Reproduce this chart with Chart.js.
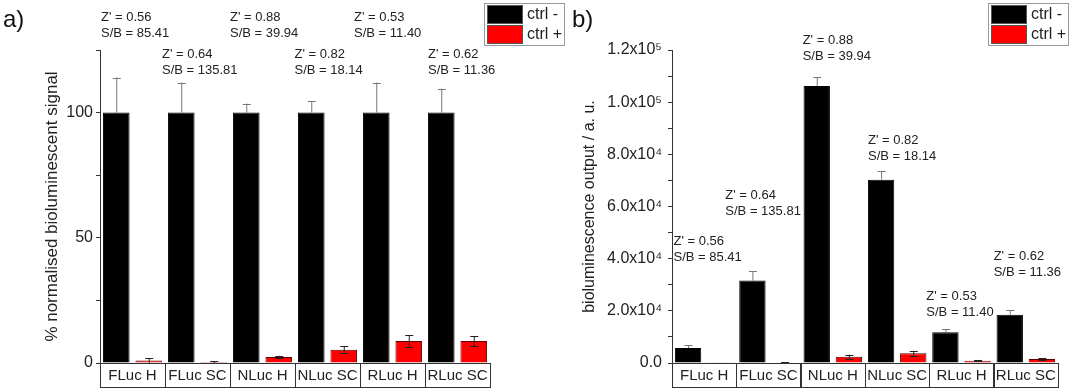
<!DOCTYPE html>
<html>
<head>
<meta charset="utf-8">
<script src="https://cdn.jsdelivr.net/npm/chart.js@4.4.1/dist/chart.umd.min.js"></script>
<style>
  html, body { margin: 0; padding: 0; background: #fff; }
  #wrap { position: relative; width: 1072px; height: 390px; }
  #chartA { position: absolute; left: 0; top: 0; }
  #chartB { position: absolute; left: 568px; top: 0; }
</style>
</head>
<body>
<div id="wrap">
  <canvas id="chartA" width="568" height="390"></canvas>
  <canvas id="chartB" width="504" height="390"></canvas>
</div>
<script>
const labels = ["FLuc H", "FLuc SC", "NLuc H", "NLuc SC", "RLuc H", "RLuc SC"];
const zPrime = ["0.56", "0.64", "0.88", "0.82", "0.53", "0.62"];
const sbRatio = ["85.41", "135.81", "39.94", "18.14", "11.40", "11.36"];

// a) % normalised signal
const normNeg = [100, 100, 100, 100, 100, 100];
const normNegErr = [14, 12, 3.6, 4.5, 12, 9.6];
const normPos = [1.0, 0.4, 2.4, 5.3, 8.8, 8.8];
const normPosErr = [1.0, 0.4, 0.5, 1.5, 2.4, 2.0];

// b) raw bioluminescence output
const rawNeg = [5750, 31600, 106200, 70300, 11800, 18500];
const rawNegErr = [1050, 3500, 3400, 3200, 1200, 1700];
const rawPos = [60, 200, 2400, 3700, 900, 1500];
const rawPosErr = [20, 100, 800, 1000, 300, 400];

// where the Z'/S-B notes sit (y in data units, x nudge in px from category edge)
const noteA = { y: [138, 123.2, 138, 123.2, 138, 123.2], dx: [1, -3, 0, -0.5, -6, 3] };
const noteB = { y: [46500, 64200, 123800, 85400, 25400, 40800], dx: [1.5, -11, 2, 3, -3, 0] };

Chart.defaults.font.family = "'Liberation Sans', Arial, sans-serif";
Chart.defaults.color = "#222";

const sup = { "0": "\u2070", "1": "\u00b9", "2": "\u00b2", "3": "\u00b3", "4": "\u2074", "5": "\u2075", "6": "\u2076", "7": "\u2077", "8": "\u2078", "9": "\u2079" };
function sci(v) {
  if (v === 0) return "0.0";
  const e = Math.floor(Math.log10(v) + 1e-9);
  return (v / Math.pow(10, e)).toFixed(1) + "x10" + String(e).split("").map(c => sup[c]).join("");
}

const errorBars = {
  id: "errorBars",
  afterDatasetsDraw(chart) {
    const ctx = chart.ctx;
    const ys = chart.scales.y;
    chart.data.datasets.forEach((ds, i) => {
      const meta = chart.getDatasetMeta(i);
      meta.data.forEach((bar, j) => {
        const v = ds.data[j], e = ds.errors[j];
        const top = ys.getPixelForValue(v + e);
        const bot = ds.errBoth ? ys.getPixelForValue(Math.max(0, v - e)) : ys.getPixelForValue(v);
        ctx.save();
        ctx.strokeStyle = ds.errColor;
        ctx.lineWidth = 1;
        ctx.beginPath();
        ctx.moveTo(bar.x + 0.5, top);
        ctx.lineTo(bar.x + 0.5, bot);
        ctx.moveTo(bar.x - 3.5, Math.round(top) + 0.5);
        ctx.lineTo(bar.x + 4.5, Math.round(top) + 0.5);
        if (ds.errBoth) {
          ctx.moveTo(bar.x - 3.5, Math.round(bot) + 0.5);
          ctx.lineTo(bar.x + 4.5, Math.round(bot) + 0.5);
        }
        ctx.stroke();
        ctx.restore();
      });
    });
  }
};

const decorations = {
  id: "decorations",
  afterDraw(chart, args, opts) {
    const ctx = chart.ctx;
    const xs = chart.scales.x, ys = chart.scales.y;
    const area = chart.chartArea;
    const half = (xs.getPixelForValue(1) - xs.getPixelForValue(0)) / 2;
    ctx.save();
    // category label boxes
    ctx.strokeStyle = "#333";
    ctx.lineWidth = 1;
    labels.forEach((l, i) => {
      const cx = xs.getPixelForValue(i);
      ctx.strokeRect(Math.round(cx - half) + 0.5, Math.round(area.bottom) + 0.5, Math.round(2 * half), 24);
    });
    // Z' and S/B notes
    ctx.fillStyle = "#222";
    ctx.font = "13px 'Liberation Sans', Arial, sans-serif";
    ctx.textAlign = "left";
    ctx.textBaseline = "middle";
    labels.forEach((l, i) => {
      const x = xs.getPixelForValue(i) - half + opts.note.dx[i];
      const y = ys.getPixelForValue(opts.note.y[i]);
      ctx.fillText("Z' = " + zPrime[i], x, y);
      ctx.fillText("S/B = " + sbRatio[i], x, y + 16);
    });
    // legend box
    const L = opts.legend;
    ctx.strokeStyle = "#999";
    ctx.strokeRect(L.x + 0.5, L.y + 0.5, 80, 42);
    ctx.font = "16px 'Liberation Sans', Arial, sans-serif";
    chart.data.datasets.forEach((ds, i) => {
      const sy = L.y + 2 + i * 20;
      ctx.fillStyle = ds.backgroundColor;
      ctx.fillRect(L.x + 3, sy, 36, 19);
      ctx.strokeStyle = "#555";
      ctx.strokeRect(L.x + 3.5, sy + 0.5, 35, 18);
      ctx.fillStyle = "#222";
      ctx.fillText(ds.label, L.x + 43, sy + 10);
    });
    // panel letter
    ctx.font = "24px 'Liberation Sans', Arial, sans-serif";
    ctx.textBaseline = "alphabetic";
    ctx.fillStyle = "#111";
    ctx.fillText(opts.letter, opts.letterX, 27);
    ctx.restore();
  }
};

function makeChart(el, neg, negErr, pos, posErr, yOpts, yWidth, pad, title, titleSize, titlePad, deco) {
  return new Chart(el, {
    type: "bar",
    data: {
      labels: labels,
      datasets: [
        {
          label: "ctrl -",
          data: neg,
          errors: negErr,
          errColor: "#777",
          errBoth: false,
          backgroundColor: "#000000",
          borderColor: "#000000",
          borderWidth: 1,
          categoryPercentage: 1.0,
          barPercentage: 0.82,
        },
        {
          label: "ctrl +",
          data: pos,
          errors: posErr,
          errColor: "#222",
          errBoth: true,
          backgroundColor: "#ff0000",
          borderColor: "#5a0000",
          borderWidth: 1,
          categoryPercentage: 1.0,
          barPercentage: 0.82,
        },
      ],
    },
    options: {
      responsive: false,
      animation: false,
      layout: { padding: pad },
      plugins: {
        legend: { display: false },
        tooltip: { enabled: false },
        decorations: deco,
      },
      scales: {
        x: {
          grid: { display: false },
          border: { display: false },
          ticks: { font: { size: 15 }, color: "#222", padding: -4, maxRotation: 0, minRotation: 0, autoSkip: false },
          afterFit: (s) => { s.height = 24; },
        },
        y: Object.assign({
          min: 0,
          grid: { drawOnChartArea: false, drawTicks: true, tickLength: 4, color: "#333" },
          border: { display: true, color: "#333", width: 1 },
          title: { display: true, text: title, font: { size: titleSize }, color: "#222", padding: { top: titlePad, bottom: 0 } },
          afterFit: (s) => { s.width = yWidth; },
        }, yOpts),
      },
    },
    plugins: [errorBars, decorations],
  });
}

document.addEventListener("DOMContentLoaded", () => {
  makeChart(document.querySelector("#chartA"), normNeg, normNegErr, normPos, normPosErr,
    {
      max: 125,
      ticks: { stepSize: 25, font: { size: 16 }, color: "#222", padding: 3, callback: (v) => (v % 50 === 0 ? v : "") },
    },
    100, { top: 50, left: 0, right: 78, bottom: 3 },
    "% normalised bioluminescent signal", 17, 42,
    { note: noteA, legend: { x: 484, y: 3 }, letter: "a)", letterX: 3 });

  makeChart(document.querySelector("#chartB"), rawNeg, rawNegErr, rawPos, rawPosErr,
    {
      max: 120000,
      ticks: { stepSize: 10000, font: { size: 16 }, color: "#222", padding: 6, callback: (v) => (v % 20000 === 0 ? sci(v) : "") },
    },
    104, { top: 50, left: 0, right: 14, bottom: 3 },
    "bioluminescence output / a. u.", 16, 12,
    { note: noteB, legend: { x: 420, y: 3 }, letter: "b)", letterX: 4 });
});
</script>
</body>
</html>
